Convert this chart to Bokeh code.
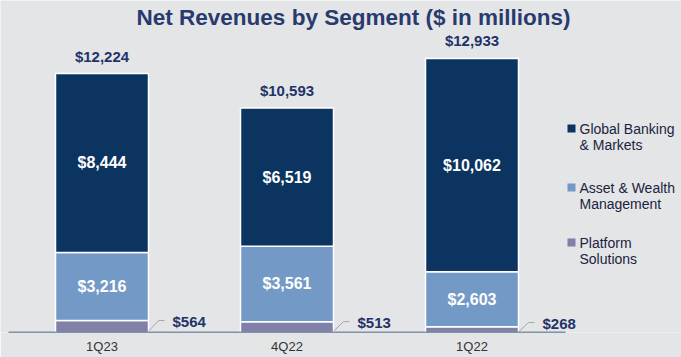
from bokeh.plotting import figure
from bokeh.models import Range1d, FixedTicker, Label, ColumnDataSource
from bokeh.embed import file_html
from bokeh.resources import INLINE
from bokeh.core.properties import value

quarters = ["1Q23", "4Q22", "1Q22"]
gbm = [8444, 6519, 10062]
awm = [3216, 3561, 2603]
ps = [564, 513, 268]
totals = [12224, 10593, 12933]
series_names = ["Global Banking\n& Markets", "Asset & Wealth\nManagement", "Platform\nSolutions"]
colors = ["#0c3461", "#7399c6", "#8080a8"]   # GBM, AWM, PS

W, H = 681, 357
BOTTOM = 25
XS = 185.0          # px per category
X0 = 101.5          # px of first centre
YS = 12224 / 259.0  # units per px

FONT = "Liberation Sans"
NAVY = "#1f3368"

p = figure(width=W, height=H, output_backend="svg", toolbar_location=None,
           min_border_left=0, min_border_right=0, min_border_top=0, min_border_bottom=BOTTOM,
           x_range=Range1d(-X0 / XS, (W - X0) / XS),
           y_range=Range1d(0, (H - BOTTOM) * YS),
           background_fill_color="#e4e5e7", border_fill_color="#e4e5e7", outline_line_color=None)
p.grid.visible = False
p.yaxis.visible = False

xax = p.xaxis[0]
xax.ticker = FixedTicker(ticks=list(range(len(quarters))))
xax.major_label_overrides = {i: q for i, q in enumerate(quarters)}
xax.axis_line_color = None
xax.major_tick_line_color = None
xax.minor_tick_line_color = None
xax.major_tick_out = 0
xax.major_tick_in = 0
xax.minor_tick_out = 0
xax.major_label_text_font = FONT
xax.major_label_text_font_size = "13px"
xax.major_label_text_color = "#333333"
xax.major_label_standoff = 6

def px2x(px):
    return (px - X0) / XS
def py2y(py):
    return (H - BOTTOM - py) * YS

xs = list(range(len(quarters)))
src = ColumnDataSource(dict(x=xs, ps=ps, awm=awm, gbm=gbm))
BW = 93 / XS
p.vbar_stack(["ps", "awm", "gbm"], x="x", width=BW, source=src,
             color=[colors[2], colors[1], colors[0]],
             line_color="white", line_width=1.5)

# baseline
p.segment(x0=[px2x(8)], y0=[0], x1=[px2x(565)], y1=[0], line_color="#1b3a66", line_width=1.5)

# inside labels
gbm_mid = [a + b + g / 2 for a, b, g in zip(ps, awm, gbm)]
awm_mid = [a + b / 2 for a, b in zip(ps, awm)]
inside = ColumnDataSource(dict(x=xs + xs, y=gbm_mid + awm_mid,
                               t=[f"${v:,}" for v in gbm] + [f"${v:,}" for v in awm]))
p.text(x="x", y="y", text="t", source=inside, text_align="center", text_baseline="middle",
       text_color="white", text_font=value(FONT), text_font_style="bold", text_font_size="16px")

# totals
tot = ColumnDataSource(dict(x=xs, y=totals, t=[f"${v:,}" for v in totals]))
p.text(x="x", y="y", text="t", source=tot, text_align="center", text_baseline="bottom",
       y_offset=-9, text_color=NAVY, text_font=value(FONT), text_font_style="bold",
       text_font_size="15px")

# platform solutions callouts
lead_y = [max(v, 470) for v in ps]
edge = [x + BW / 2 for x in xs]
p.segment(x0=edge, y0=[v * 0.1 for v in ps], x1=[e + 10 / XS for e in edge], y1=lead_y,
          line_color="#a6a6a6", line_width=1)
p.segment(x0=[e + 10 / XS for e in edge], y0=lead_y, x1=[e + 16 / XS for e in edge], y1=lead_y,
          line_color="#a6a6a6", line_width=1)
p.text(x=[e + 24 / XS for e in edge], y=lead_y, text=[f"${v:,}" for v in ps],
       text_align="left", text_baseline="middle", y_offset=1, text_color=NAVY,
       text_font=value(FONT), text_font_style="bold", text_font_size="15px")

# title
p.add_layout(Label(x=px2x(353), y=py2y(17), text="Net Revenues by Segment ($ in millions)",
                   text_align="center", text_baseline="middle", text_color="#283a6e",
                   text_font=FONT, text_font_style="bold", text_font_size="22.5px"))

# legend
leg_top = [128, 187, 242]
p.scatter(x=[px2x(571)] * 3, y=[py2y(v) for v in leg_top], marker="square", size=8,
          color=colors, line_color=None)
for name, top in zip(series_names, leg_top):
    for k, line in enumerate(name.split("\n")):
        p.add_layout(Label(x=px2x(579), y=py2y(top + 16.5 * k), text=line,
                           text_align="left", text_baseline="middle", text_color="#1a2440",
                           text_font=FONT, text_font_size="14px"))

open("out.html", "w").write(file_html(p, INLINE))
